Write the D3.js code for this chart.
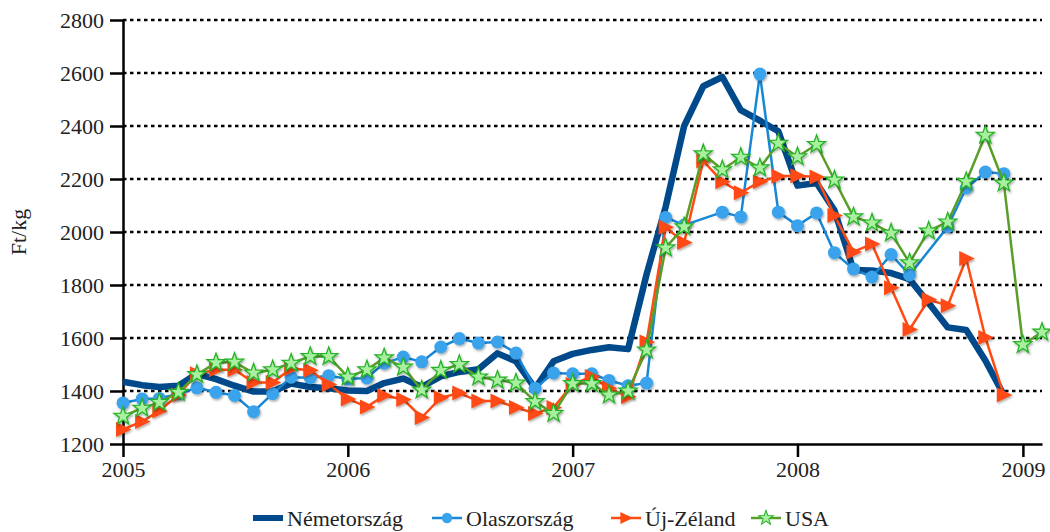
<!DOCTYPE html>
<html>
<head>
<meta charset="utf-8">
<script src="https://cdn.jsdelivr.net/npm/d3@7"></script>
<style>
  body { margin: 0; background: #fff; }
  svg, svg text { font-family: "Liberation Serif", "Times New Roman", "DejaVu Serif", serif; }
</style>
</head>
<body>
<div id="chart"></div>
<script>
/* Data (Ft/kg, monthly from Jan 2005) */
var yearLabels = ["2005", "2006", "2007", "2008", "2009"];
var seriesNames = ["Németország", "Olaszország", "Új-Zéland", "USA"];

var nemet = [1435, 1422, 1415, 1420, 1465, 1445, 1420, 1398, 1398, 1428, 1415, 1410,
             1402, 1400, 1430, 1447, 1415, 1455, 1472, 1482, 1542, 1512, 1410, 1512,
             1540, 1555, 1565, 1558, 1840, 2095, 2400, 2550, 2585, 2460, 2420, 2380,
             2175, 2185, 2082, 1857, 1855, 1845, 1822, 1732, 1640, 1630, 1515, 1385];

var olasz = [1355, 1370, 1372, 1390, 1412, 1395, 1383, 1322, 1390, 1452, 1450, 1458,
             1445, 1449, 1505, 1528, 1510, 1566, 1598, 1581, 1585, 1543, 1410, 1468,
             1465, 1465, 1440, 1420, 1430, 2055, 2026, null, 2075, 2057, 2596, 2075,
             2024, 2072, 1922, 1860, 1830, 1915, 1838, null, 2020, 2166, 2226, 2220];

var ujzeland = [1255, 1285, 1325, 1385, 1465, 1480, 1480, 1432, 1432, 1485, 1478, 1425,
                1370, 1340, 1383, 1368, 1300, 1375, 1392, 1362, 1362, 1338, 1315, 1338,
                1425, 1455, 1410, 1378, 1585, 2018, 1960, 2268, 2190, 2148, 2190, 2210,
                2212, 2208, 2062, 1925, 1955, 1790, 1632, 1745, 1722, 1900, 1602, 1385];

var usa = [1305, 1335, 1357, 1395, 1462, 1507, 1509, 1468, 1480, 1505, 1530, 1530,
           1453, 1480, 1525, 1490, 1404, 1478, 1500, 1453, 1441, 1430, 1360, 1315,
           1428, 1428, 1385, 1400, 1555, 1940, 2020, 2295, 2235, 2282, 2242, 2335,
           2284, 2330, 2196, 2057, 2034, 1996, 1884, 2004, 2038, 2190, 2365, 2185,
           1575, 1622];

var yTicks = [1200, 1400, 1600, 1800, 2000, 2200, 2400, 2600, 2800];

/* Settings */
var width = 1050,
    height = 532,
    margin = {top: 20, right: 8, bottom: 88, left: 123},
    fontSize = 22,
    fontFamily = '"Liberation Serif", "Times New Roman", "DejaVu Serif", serif',
    legendX = [253, 432, 611, 751];  /* left edge of each legend key */

var start = new Date(2005, 0, 1);
function monthDate(i) { return d3.timeMonth.offset(start, i); }

var x = d3.scaleTime()
    .domain([start, monthDate(49)])
    .range([margin.left, width - margin.right]);

var y = d3.scaleLinear()
    .domain([1200, 2800])
    .range([height - margin.bottom, margin.top]);

var svg = d3.select("#chart").append("svg")
    .attr("width", width)
    .attr("height", height)
    .style("font-family", fontFamily);

var defs = svg.append("defs");
defs.append("filter")
    .attr("id", "shadow")
    .attr("x", "-50%").attr("y", "-50%")
    .attr("width", "200%").attr("height", "200%")
  .append("feDropShadow")
    .attr("dx", 1).attr("dy", 1.5)
    .attr("stdDeviation", 0.8)
    .attr("flood-color", "#000")
    .attr("flood-opacity", 0.35);

/* Gridlines */
svg.append("g")
  .selectAll("line")
  .data(yTicks.slice(1))
  .join("line")
    .attr("x1", margin.left)
    .attr("x2", width - margin.right)
    .attr("y1", function(d) { return y(d); })
    .attr("y2", function(d) { return y(d); })
    .attr("stroke", "#000")
    .attr("stroke-width", 2.5)
    .attr("stroke-dasharray", "3.5,3.5");

/* Axes */
var yearDates = yearLabels.map(function(d) { return new Date(+d, 0, 1); });

var xAxis = svg.append("g")
    .attr("transform", "translate(0," + y(1200) + ")")
    .call(d3.axisBottom(x)
      .tickValues(yearDates)
      .tickFormat(function(d, i) { return yearLabels[i]; })
      .tickSize(13)
      .tickSizeOuter(0)
      .tickPadding(4));

var yAxis = svg.append("g")
    .attr("transform", "translate(" + margin.left + ",0)")
    .call(d3.axisLeft(y)
      .tickValues(yTicks)
      .tickFormat(d3.format("d"))
      .tickSize(13)
      .tickSizeOuter(0)
      .tickPadding(6));

[xAxis, yAxis].forEach(function(a) {
  a.attr("font-family", null).attr("font-size", null);
  a.select(".domain").attr("stroke", "#000").attr("stroke-width", 2.5);
  a.selectAll(".tick line").attr("stroke", "#000").attr("stroke-width", 2.5);
  a.selectAll(".tick text")
    .style("font-family", fontFamily)
    .style("font-size", fontSize + "px")
    .attr("fill", "#222");
});

svg.append("text")
    .attr("transform", "translate(26," + y(2000) + ") rotate(-90)")
    .attr("text-anchor", "middle")
    .style("font-size", fontSize + "px")
    .attr("fill", "#222")
    .text("Ft/kg");

/* Series */
function points(values) {
  return values.map(function(v, i) { return {date: monthDate(i), value: v}; })
    .filter(function(d) { return d.value != null; });
}

var line = d3.line()
    .x(function(d) { return x(d.date); })
    .y(function(d) { return y(d.value); });

var starPath = (function() {
  var pts = [], R = 9.5, r = 3.8;
  for (var k = 0; k < 10; k++) {
    var a = -Math.PI / 2 + k * Math.PI / 5, rad = k % 2 ? r : R;
    pts.push([rad * Math.cos(a), rad * Math.sin(a)]);
  }
  return "M" + pts.join("L") + "Z";
})();

var series = [
  {name: seriesNames[0], values: nemet, color: "#004a8c", width: 6.5, marker: null},
  {name: seriesNames[1], values: olasz, color: "#1787d6", width: 2.5, marker: "circle",
   fill: "#3aa3ec"},
  {name: seriesNames[2], values: ujzeland, color: "#ff4a12", width: 2.5, marker: "triangle",
   fill: "#ff4a12"},
  {name: seriesNames[3], values: usa, color: "#5a9e2a", width: 2.5, marker: "star",
   fill: "#a8f0a0", stroke: "#25b225"}
];

function drawMarker(sel, s) {
  if (s.marker === "circle") {
    sel.append("circle").attr("r", 6.5).attr("fill", s.fill);
  } else if (s.marker === "triangle") {
    sel.append("path").attr("d", "M-7,-7.5L8.5,0L-7,7.5Z").attr("fill", s.fill);
  } else if (s.marker === "star") {
    sel.append("path").attr("d", starPath)
      .attr("fill", s.fill).attr("stroke", s.stroke).attr("stroke-width", 1.3);
  }
}

series.forEach(function(s) {
  var data = points(s.values);
  var g = svg.append("g");
  g.append("path")
    .datum(data)
    .attr("fill", "none")
    .attr("stroke", s.color)
    .attr("stroke-width", s.width)
    .attr("stroke-linejoin", "round")
    .attr("d", line);
  if (s.marker) {
    g.selectAll("g.marker")
      .data(data)
      .join("g")
        .attr("class", "marker")
        .attr("filter", "url(#shadow)")
        .attr("transform", function(d) {
          return "translate(" + x(d.date) + "," + y(d.value) + ")";
        })
        .each(function() { drawMarker(d3.select(this), s); });
  }
});

/* Legend */
var legend = svg.append("g").attr("transform", "translate(0,518)");
series.forEach(function(s, i) {
  var item = legend.append("g").attr("transform", "translate(" + legendX[i] + ",0)");
  item.append("line")
    .attr("x1", 0).attr("x2", 30)
    .attr("stroke", s.color)
    .attr("stroke-width", s.marker ? 2.5 : 6);
  if (s.marker) {
    var m = item.append("g").attr("transform", "translate(15,0) scale(0.8)");
    drawMarker(m, s);
  }
  item.append("text")
    .attr("x", 34)
    .attr("dy", "0.35em")
    .style("font-size", fontSize + "px")
    .attr("fill", "#222")
    .text(s.name);
});
</script>
</body>
</html>
